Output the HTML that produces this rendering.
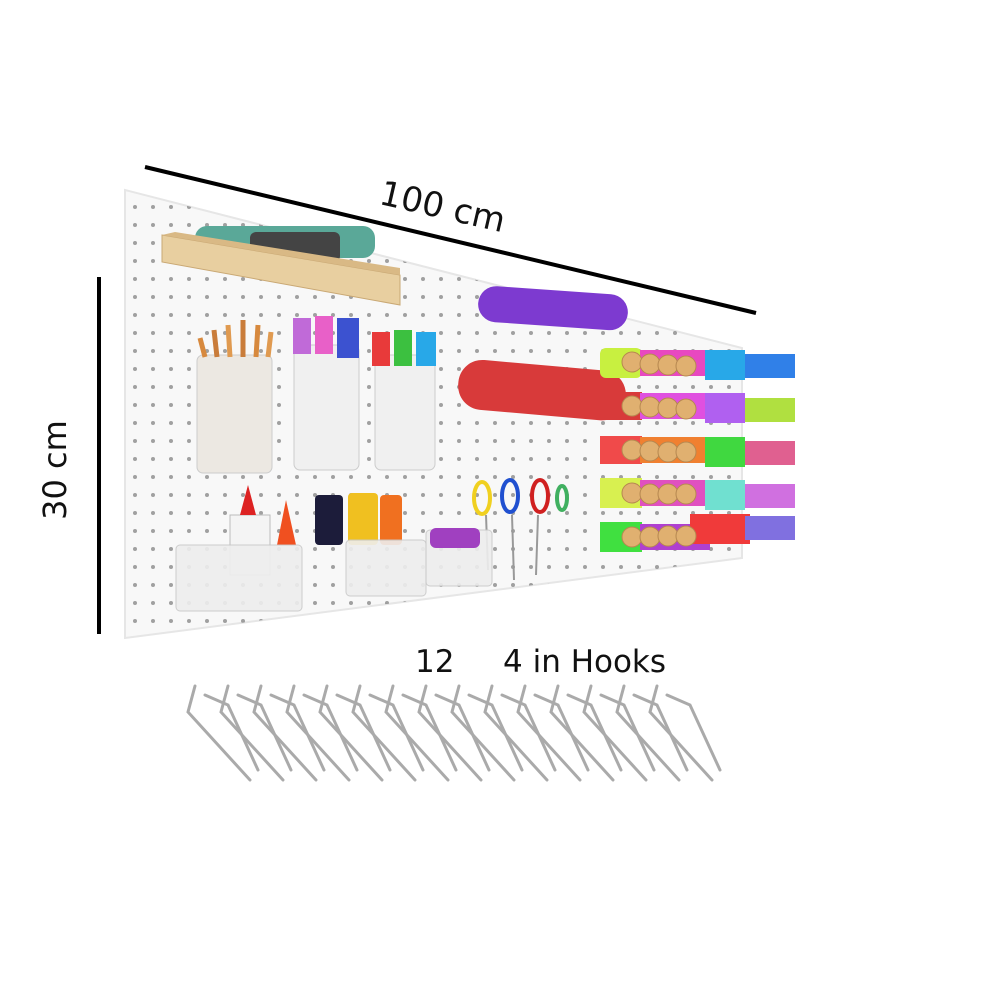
<!DOCTYPE html>
<html><head><meta charset="utf-8"><style>
html,body{margin:0;padding:0;background:#fff;width:990px;height:990px;overflow:hidden}
svg{display:block}
text{font-family:"DejaVu Sans","Liberation Sans",sans-serif;fill:#111}
</style></head><body>
<svg width="990" height="990" viewBox="0 0 990 990" xmlns="http://www.w3.org/2000/svg">
<defs>
<pattern id="holes" width="18" height="18" patternUnits="userSpaceOnUse">
<circle cx="9" cy="9" r="2" fill="#666"/>
</pattern>
<clipPath id="board"><polygon points="125,190 742,348 742,558 125,638"/></clipPath>
</defs>
<line x1="145" y1="167" x2="756" y2="313" stroke="#000" stroke-width="4"/>
<text x="440" y="218" font-size="34" transform="rotate(13 440 218)" text-anchor="middle">100 cm</text>
<line x1="99" y1="277" x2="99" y2="634" stroke="#000" stroke-width="4"/>
<text x="66" y="470" font-size="32" transform="rotate(-90 66 470)" text-anchor="middle">30 cm</text>
<polygon points="125,190 742,348 742,558 125,638" fill="#f8f8f8" stroke="#e6e6e6" stroke-width="2"/>
<rect x="125" y="190" width="620" height="450" fill="url(#holes)" clip-path="url(#board)" opacity="0.6"/>
<g>
<rect x="195" y="226" width="180" height="32" rx="12" fill="#5aa898"/>
<rect x="250" y="232" width="90" height="30" rx="6" fill="#444"/>
<polygon points="162,235 400,275 400,305 162,262" fill="#e8cfa0" stroke="#c9a874"/>
<polygon points="162,235 175,232 400,268 400,275" fill="#d9b985"/>
</g>
<rect x="197" y="355" width="75" height="118" rx="6" fill="#ece8e2" stroke="#ccc"/>
<g stroke-width="5"><line x1="205" y1="357" x2="200" y2="338" stroke="#d7893e"/><line x1="217" y1="357" x2="214" y2="330" stroke="#c97c3a"/><line x1="230" y1="357" x2="228" y2="325" stroke="#e09a50"/><line x1="243" y1="357" x2="243" y2="320" stroke="#c97c3a"/><line x1="256" y1="357" x2="258" y2="325" stroke="#d7893e"/><line x1="268" y1="357" x2="271" y2="332" stroke="#e09a50"/></g>
<rect x="294" y="345" width="65" height="125" rx="6" fill="#f0f0f0" stroke="#ccc"/>
<rect x="293" y="318" width="18" height="36" fill="#c06ad8"/><rect x="315" y="316" width="18" height="38" fill="#e860c8"/><rect x="337" y="318" width="22" height="40" fill="#3c52d0"/>
<rect x="375" y="355" width="60" height="115" rx="6" fill="#f0f0f0" stroke="#ccc"/>
<rect x="372" y="332" width="18" height="34" fill="#e83a3a"/><rect x="394" y="330" width="18" height="36" fill="#3cc040"/><rect x="416" y="332" width="20" height="34" fill="#28a8e8"/>
<rect x="478" y="290" width="150" height="36" rx="18" fill="#7d3ad0" transform="rotate(4 550 308)"/>
<rect x="458" y="365" width="168" height="50" rx="24" fill="#d83a3a" transform="rotate(5 540 390)"/>
<g fill="none" stroke-width="4">
<ellipse cx="482" cy="498" rx="8" ry="16" stroke="#f0d020"/><ellipse cx="510" cy="496" rx="8" ry="16" stroke="#2050d0"/><ellipse cx="540" cy="496" rx="8" ry="16" stroke="#d02020"/><ellipse cx="562" cy="498" rx="5" ry="12" stroke="#40b060"/>
</g>
<g stroke="#999" stroke-width="2"><line x1="486" y1="515" x2="488" y2="570"/><line x1="512" y1="515" x2="514" y2="580"/><line x1="538" y1="515" x2="536" y2="575"/></g>
<rect x="230" y="515" width="40" height="60" fill="#f4f4f4" stroke="#bbb"/>
<polygon points="248,485 240,515 256,515" fill="#d22"/>
<polygon points="286,500 277,545 296,545" fill="#f05020"/>
<rect x="315" y="495" width="28" height="50" rx="4" fill="#1c1c3a"/><rect x="348" y="493" width="30" height="52" rx="4" fill="#f0c020"/><rect x="380" y="495" width="22" height="50" rx="4" fill="#f07020"/>
<rect x="176" y="545" width="126" height="66" rx="4" fill="#eeeeee" stroke="#c8c8c8" opacity="0.9"/>
<rect x="346" y="540" width="80" height="56" rx="4" fill="#eeeeee" stroke="#c8c8c8" opacity="0.9"/>
<rect x="426" y="530" width="66" height="56" rx="4" fill="#eeeeee" stroke="#c8c8c8" opacity="0.9"/>
<rect x="430" y="528" width="50" height="20" rx="6" fill="#a040c0"/>
<g>
<rect x="600" y="348" width="42" height="30" rx="6" fill="#c8f040"/><rect x="640" y="350" width="70" height="26" fill="#e848c0"/><rect x="705" y="350" width="40" height="30" fill="#28a8e8"/><rect x="745" y="354" width="50" height="24" fill="#3080e8"/>
<rect x="600" y="392" width="42" height="28" fill="#d83a3a"/><rect x="640" y="393" width="70" height="26" fill="#e050e0"/><rect x="705" y="393" width="40" height="30" fill="#b060f0"/><rect x="745" y="398" width="50" height="24" fill="#b0e040"/>
<rect x="600" y="436" width="42" height="28" fill="#f04a4a"/><rect x="640" y="437" width="70" height="26" fill="#f08030"/><rect x="705" y="437" width="40" height="30" fill="#40d840"/><rect x="745" y="441" width="50" height="24" fill="#e06090"/>
<rect x="600" y="478" width="42" height="30" fill="#d8f050"/><rect x="640" y="480" width="70" height="26" fill="#e050c0"/><rect x="705" y="480" width="40" height="30" fill="#70e0d0"/><rect x="745" y="484" width="50" height="24" fill="#d070e0"/>
<rect x="600" y="522" width="42" height="30" fill="#40e040"/><rect x="640" y="524" width="70" height="26" fill="#b040d0"/><rect x="690" y="514" width="60" height="30" fill="#f03a3a"/><rect x="745" y="516" width="50" height="24" fill="#8070e0"/>
</g>
<g fill="#e0b070" stroke="#b68850">
<circle cx="632" cy="362" r="10"/><circle cx="650" cy="364" r="10"/><circle cx="668" cy="365" r="10"/><circle cx="686" cy="366" r="10"/>
<circle cx="632" cy="406" r="10"/><circle cx="650" cy="407" r="10"/><circle cx="668" cy="408" r="10"/><circle cx="686" cy="409" r="10"/>
<circle cx="632" cy="450" r="10"/><circle cx="650" cy="451" r="10"/><circle cx="668" cy="452" r="10"/><circle cx="686" cy="452" r="10"/>
<circle cx="632" cy="493" r="10"/><circle cx="650" cy="494" r="10"/><circle cx="668" cy="494" r="10"/><circle cx="686" cy="494" r="10"/>
<circle cx="632" cy="537" r="10"/><circle cx="650" cy="537" r="10"/><circle cx="668" cy="536" r="10"/><circle cx="686" cy="536" r="10"/>
</g>
<text x="415" y="672" font-size="31">12</text>
<text x="503" y="672" font-size="31">4 in Hooks</text>
<g fill="none" stroke="#aaa" stroke-width="3" stroke-linecap="round">
<path d="M195 686 L188 712 L250 780 M205 695 L228 705 L258 770"/>
<path d="M228 686 L221 712 L283 780 M238 695 L261 705 L291 770"/>
<path d="M261 686 L254 712 L316 780 M271 695 L294 705 L324 770"/>
<path d="M294 686 L287 712 L349 780 M304 695 L327 705 L357 770"/>
<path d="M327 686 L320 712 L382 780 M337 695 L360 705 L390 770"/>
<path d="M360 686 L353 712 L415 780 M370 695 L393 705 L423 770"/>
<path d="M393 686 L386 712 L448 780 M403 695 L426 705 L456 770"/>
<path d="M426 686 L419 712 L481 780 M436 695 L459 705 L489 770"/>
<path d="M459 686 L452 712 L514 780 M469 695 L492 705 L522 770"/>
<path d="M492 686 L485 712 L547 780 M502 695 L525 705 L555 770"/>
<path d="M525 686 L518 712 L580 780 M535 695 L558 705 L588 770"/>
<path d="M558 686 L551 712 L613 780 M568 695 L591 705 L621 770"/>
<path d="M591 686 L584 712 L646 780 M601 695 L624 705 L654 770"/>
<path d="M624 686 L617 712 L679 780 M634 695 L657 705 L687 770"/>
<path d="M657 686 L650 712 L712 780 M667 695 L690 705 L720 770"/>
</g>
</svg>
</body></html>
